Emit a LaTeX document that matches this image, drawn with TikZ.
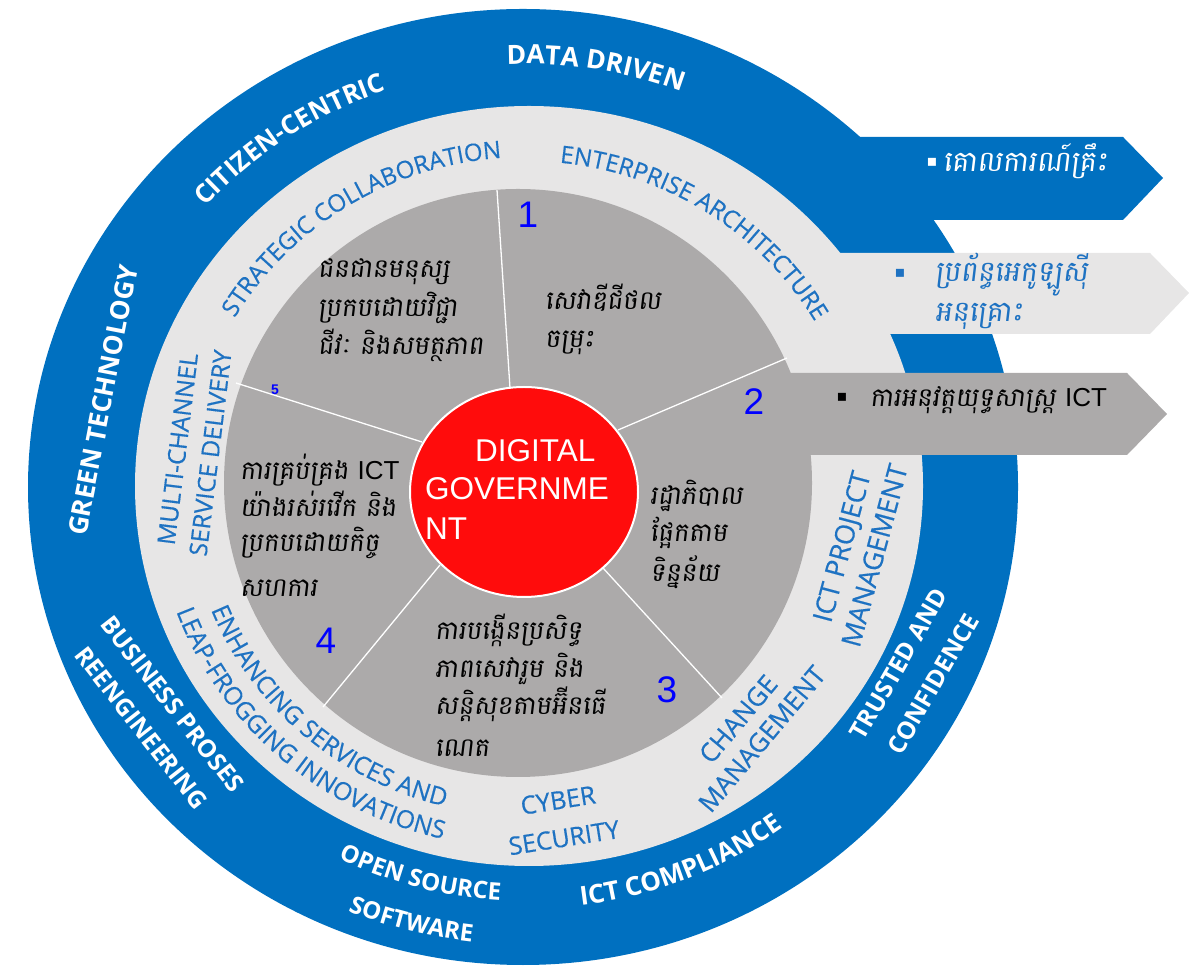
\documentclass[tikz,border=0pt]{standalone}
\usepackage{fontspec}
\setmainfont{Liberation Sans}
\newfontfamily\osans{Open Sans}
\newfontfamily\osanssb[FakeBold=0.4]{Open Sans}
\newfontfamily\khm[Script=Khmer,FakeSlant=0.12]{Battambang}
\newfontfamily\djv{DejaVu Sans}
\newfontfamily\lat{Liberation Sans}
\usetikzlibrary{decorations.text}
\definecolor{ringblue}{RGB}{0,112,192}
\definecolor{lightring}{RGB}{231,230,230}
\definecolor{midgray}{RGB}{172,170,170}
\definecolor{txtblue}{RGB}{30,114,194}
\definecolor{redc}{RGB}{255,12,12}
\definecolor{numblue}{RGB}{0,0,255}
\newcommand\fWA{\osans\bfseries\fontsize{26.5pt}{30pt}\selectfont}
\newcommand\fWB{\osans\bfseries\fontsize{26pt}{28pt}\selectfont}
\newcommand\fWC{\osans\bfseries\fontsize{24pt}{28pt}\selectfont}
\newcommand\fLA{\osanssb\fontsize{24pt}{26pt}\selectfont}
\newcommand\fLB{\osanssb\fontsize{24.8pt}{26pt}\selectfont}
% #1 centre angle, #2 baseline radius, #3 half span, #4 colour, #5 font, #6 text
\newcommand\TopArc[6]{\path[shift={(RC)},decorate,decoration={text along path,text align=center,text color=#4,text={|#5|#6}}]
  ({#1+#3}:{1.03*#2} and {#2}) arc[start angle={#1+#3},end angle={#1-#3},x radius={1.03*#2},y radius={#2}];}
\newcommand\BotArc[6]{\path[shift={(RC)},decorate,decoration={text along path,text align=center,text color=#4,text={|#5|#6}}]
  ({#1-#3}:{1.03*#2} and {#2}) arc[start angle={#1-#3},end angle={#1+#3},x radius={1.03*#2},y radius={#2}];}
\tikzset{
  kh/.style={anchor=base west,inner sep=0pt,font=\khm\fontsize{26pt}{30pt}\selectfont},
  kha/.style={anchor=base west,inner sep=0pt,font=\khm\fontsize{28.5pt}{30pt}\selectfont},
  num/.style={inner sep=0pt,text=numblue,font=\lat\fontsize{37pt}{40pt}\selectfont},
  dg/.style={anchor=base west,inner sep=0pt,text=white,font=\lat\fontsize{31.5pt}{34pt}\selectfont},
  bul/.style={inner sep=0pt,font=\djv\fontsize{16pt}{16pt}\selectfont},
  divider/.style={draw=white,line width=1.3pt},
  wlab/.style={inner sep=0pt,align=center,text=white},
  blab/.style={inner sep=0pt,align=center,text=txtblue}
}
\begin{document}
\begin{tikzpicture}[x=1pt,y=1pt]
\useasboundingbox (0,0) rectangle (1190,971);
\coordinate (RC) at (526,485);
\coordinate (BC) at (523,484);
\coordinate (LC) at (529,485);
\coordinate (GC) at (518,488);
\coordinate (DC) at (524,479);
% outer blue ring and arrows
\fill[ringblue] (BC) ellipse[x radius=495,y radius=478];
\fill[ringblue] (800,834) -- (1123,834) -- (1163,793) -- (1123,751) -- (800,751) -- cycle;
\fill[lightring] (820,718) -- (1150,718) -- (1189,678) -- (1150,637) -- (820,637) -- cycle;
\fill[lightring] (LC) ellipse[x radius=394,y radius=380];
\fill[midgray] (760,598) -- (1127,598) -- (1167,557) -- (1127,516) -- (760,516) -- cycle;
\fill[midgray] (GC) circle[radius=294];
% dividers
\coordinate (d1a) at (510,583); \coordinate (d1b) at (497,781);
\coordinate (d2a) at (618,541); \coordinate (d2b) at (787,613);
\coordinate (d3a) at (603,403); \coordinate (d3b) at (722,273);
\coordinate (d4a) at (440,406); \coordinate (d4b) at (323,264);
\coordinate (d5a) at (422,529); \coordinate (d5b) at (236,588);
\draw[divider] (d1a) -- (d1b);
\draw[divider] (d2a) -- (d2b);
\draw[divider] (d3a) -- (d3b);
\draw[divider] (d4a) -- (d4b);
\draw[divider] (d5a) -- (d5b);
% red centre
\draw[white,line width=2pt,fill=redc] (DC) ellipse[x radius=114,y radius=105];
\node[dg] (g1) at (475,509) {DIGITAL};
\node[dg] (g2) at (425,471) {GOVERNME};
\node[dg] (g3) at (425,431) {NT};
% outer ring texts (white)
\TopArc{80.7}{422}{40}{white}{\fWA}{DATA DRIVEN}
\TopArc{123.8}{418}{40}{white}{\fWB}{CITIZEN-CENTRIC}
\node[wlab,rotate=79,font=\osans\bfseries\fontsize{26.4pt}{30pt}\selectfont] (gt) at (103,571) {GREEN TECHNOLOGY};
\node[wlab,rotate=-52,font=\osans\bfseries\fontsize{24.5pt}{39pt}\selectfont] (bp) at (157,255) {BUSINESS PROSES\\REENGINEERING};
\BotArc{255.1}{415}{40}{white}{\fWC}{OPEN SOURCE}
\BotArc{255.5}{459}{40}{white}{\fWC}{SOFTWARE}
\BotArc{291.9}{423}{40}{white}{\fWB}{ICT COMPLIANCE}
\node[wlab,rotate=60,font=\osans\bfseries\fontsize{24.5pt}{40pt}\selectfont] (tc) at (916,297) {TRUSTED AND\\CONFIDENCE};
% light ring texts (blue)
\TopArc{122}{329}{50}{txtblue}{\fLA}{STRATEGIC COLLABORATION}
\TopArc{57}{325}{50}{txtblue}{\fLA}{ENTERPRISE ARCHITECTURE}
\node[blab,rotate=83,font=\osanssb\fontsize{24.5pt}{33pt}\selectfont] (mc) at (194,520) {MULTI-CHANNEL\\SERVICE DELIVERY};
\BotArc{228.8}{330}{50}{txtblue}{\fLB}{ENHANCING SERVICES AND}
\BotArc{228.4}{362}{50}{txtblue}{\fLB}{LEAP-FROGGING INNOVATIONS}
\node[blab,rotate=9,font=\osanssb\fontsize{25pt}{38pt}\selectfont] (cs) at (561,152) {CYBER\\SECURITY};
\node[blab,rotate=50,font=\osanssb\fontsize{26pt}{31pt}\selectfont] (cm) at (750,242) {CHANGE\\MANAGEMENT};
\node[blab,rotate=75,font=\osanssb\fontsize{27pt}{34pt}\selectfont] (pm) at (858,420) {ICT PROJECT\\MANAGEMENT};
% sector numbers
\node[num] (n1) at (528,756) {1};
\node[num] (n2) at (754,569) {2};
\node[num] (n3) at (667,281) {3};
\node[num] (n4) at (326,330) {4};
\node[inner sep=0pt,text=numblue,font=\lat\bfseries\fontsize{14pt}{14pt}\selectfont] (n5) at (275,581) {5};
% sector texts
\node[kh] (s1a) at (318,693) {ជនជានមនុស្ស};
\node[kh] (s1b) at (318,654) {ប្រកបដោយវិជ្ជា};
\node[kh] (s1c) at (318,616) {ជីវៈ និងសមត្ថភាព};
\node[kh] (s2a) at (545,661) {សេវាឌីជីថល};
\node[kh] (s2b) at (545,623) {ចម្រុះ};
\node[kh] (s3a) at (650,466) {រដ្ឋាភិបាល};
\node[kh] (s3b) at (650,429) {ផ្អែកតាម};
\node[kh] (s3c) at (650,389) {ទិន្នន័យ};
\node[kh] (s4a) at (435,331) {ការបង្កើនប្រសិទ្ធ};
\node[kh] (s4b) at (435,293) {ភាពសេវារួម និង};
\node[kh] (s4c) at (435,256) {សន្តិសុខតាមអ៊ីនធើ};
\node[kh] (s4d) at (435,214) {ណេត};
\node[kh] (s5a) at (240,491) {ការគ្រប់គ្រង {\lat ICT}};
\node[kh] (s5b) at (240,454) {យ៉ាងរស់រវើក និង};
\node[kh] (s5c) at (240,419) {ប្រកបដោយកិច្ច};
\node[kh] (s5d) at (240,374) {សហការ};
% arrow texts
\node[bul,text=white] (b1) at (932,809) {▪};
\node[kha,text=white] (a1) at (943,799) {គោលការណ៍គ្រឹះ};
\node[bul,text=txtblue] (b2) at (900,698) {▪};
\node[kha,text=txtblue] (a2a) at (935,689) {ប្រព័ន្ធអេកូឡូស៊ី};
\node[kha,text=txtblue] (a2b) at (935,649) {អនុគ្រោះ};
\node[bul,text=black] (b3) at (842,574) {▪};
\node[kh] (a3) at (870,564) {ការអនុវត្តយុទ្ធសាស្ត្រ {\lat ICT}};
\end{tikzpicture}
\end{document}
